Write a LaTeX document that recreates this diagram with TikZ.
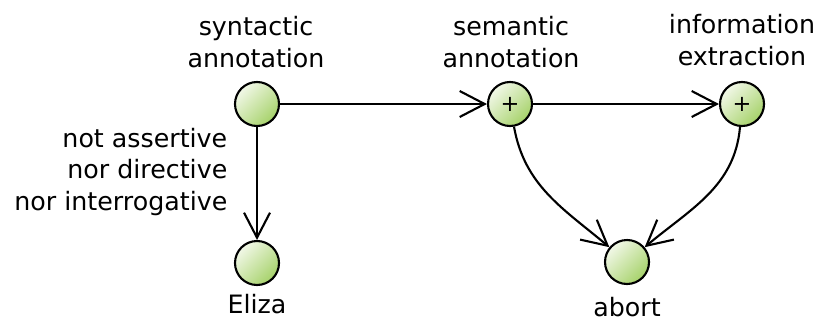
\documentclass[tikz,border=0pt]{standalone}
\usepackage{fontspec}
\setmainfont{DejaVu Sans}
\usetikzlibrary{arrows.meta}
\definecolor{nodelight}{HTML}{F2F8E8}
\definecolor{nodegreen}{HTML}{A6D26A}
\tikzset{
  actnode/.style={circle, draw, line width=0.6pt, minimum size=0.44cm, inner sep=0pt,
    top color=nodelight, bottom color=nodegreen, shading angle=45,
    font=\fontsize{6.4}{8}\selectfont},
  lbl/.style={font=\fontsize{7.2}{9}\selectfont, inner sep=0pt},
  flow/.style={-{Straight Barb[length=0.25cm,width=0.26cm]}, line width=0.6pt},
}
\begin{document}
\begin{tikzpicture}
  \useasboundingbox (0,0) rectangle (8.21,3.20);
  \node[actnode] (syn) at (2.57,2.16) {};
  \node[actnode] (sem) at (5.10,2.16) {+};
  \node[actnode] (inf) at (7.42,2.16) {+};
  \node[actnode] (eliza) at (2.57,0.57) {};
  \node[actnode] (abort) at (6.27,0.58) {};
  \node[lbl, align=center] (synlbl) at (2.56,2.78) {syntactic\\annotation};
  \node[lbl, align=center] (semlbl) at (5.11,2.78) {semantic\\annotation};
  \node[lbl, align=center] (inflbl) at (7.42,2.80) {information\\extraction};
  \node[lbl, align=right, anchor=east] (condlbl) at (2.28,1.48) {not assertive\\nor directive\\nor interrogative};
  \node[lbl, anchor=base] (elizalbl) at (2.57,0.07) {Eliza};
  \node[lbl, anchor=base] (abortlbl) at (6.27,0.04) {abort};
  \draw[flow] (syn) -- (sem);
  \draw[flow] (sem) -- (inf);
  \draw[flow] (syn) -- (eliza);
  \draw[flow] (sem) to[out=-80,in=140] (abort);
  \draw[flow] (inf) to[out=-95,in=40] (abort);
\end{tikzpicture}
\end{document}
